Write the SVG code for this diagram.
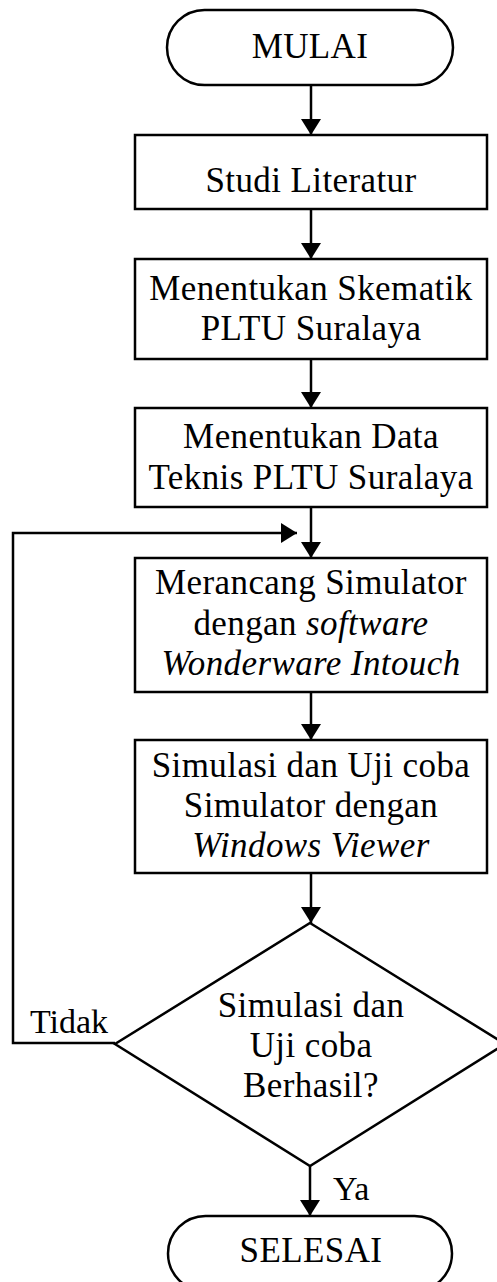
<svg xmlns="http://www.w3.org/2000/svg" width="497" height="1282" viewBox="0 0 497 1282">
<style>
.s{fill:#fff;stroke:#000;stroke-width:2.5}
.t{font-family:"Liberation Serif","Times New Roman",serif;font-size:35px;letter-spacing:0.4px;fill:#000;text-anchor:middle}
.l{font-family:"Liberation Serif","Times New Roman",serif;font-size:34px;fill:#000}
.i{font-style:italic}
.c{fill:none;stroke:#000;stroke-width:2.5}
</style>
<defs>
<marker id="ah" viewBox="0 0 16 20" refX="16" refY="10" markerWidth="16" markerHeight="20" markerUnits="userSpaceOnUse" orient="auto">
<path d="M0,0 L16,10 L0,20 z" fill="#000"/>
</marker>
</defs>
<rect width="497" height="1282" fill="#fff"/>
<g id="connectors">
<line class="c" x1="311" y1="85" x2="311" y2="135" marker-end="url(#ah)"/>
<line class="c" x1="311" y1="209" x2="311" y2="259" marker-end="url(#ah)"/>
<line class="c" x1="311" y1="359" x2="311" y2="408" marker-end="url(#ah)"/>
<line class="c" x1="311" y1="507" x2="311" y2="558" marker-end="url(#ah)"/>
<line class="c" x1="311" y1="692" x2="311" y2="740" marker-end="url(#ah)"/>
<line class="c" x1="311" y1="873" x2="311" y2="923" marker-end="url(#ah)"/>
<line class="c" x1="310" y1="1166" x2="310" y2="1216" marker-end="url(#ah)"/>
<polyline class="c" points="115,1043 13,1043 13,533 297,533" marker-end="url(#ah)"/>
<text class="l" x="30" y="1033">Tidak</text>
<text class="l" x="333" y="1200">Ya</text>
</g>
<g id="mulai">
<rect class="s" x="167" y="10" width="286" height="75" rx="37.5"/>
<text class="t" x="310" y="58">MULAI</text>
</g>
<g id="studi">
<rect class="s" x="135" y="135" width="352" height="74"/>
<text class="t" x="311" y="192">Studi Literatur</text>
</g>
<g id="skematik">
<rect class="s" x="135" y="259" width="352" height="100"/>
<text class="t" x="311" y="300">Menentukan Skematik</text>
<text class="t" x="311" y="340">PLTU Suralaya</text>
</g>
<g id="data">
<rect class="s" x="135" y="408" width="352" height="99"/>
<text class="t" x="311" y="448">Menentukan Data</text>
<text class="t" x="311" y="489">Teknis PLTU Suralaya</text>
</g>
<g id="merancang">
<rect class="s" x="135" y="558" width="352" height="134"/>
<text class="t" x="311" y="594">Merancang Simulator</text>
<text class="t" x="311" y="635">dengan <tspan class="i">software</tspan></text>
<text class="t i" x="311" y="675">Wonderware Intouch</text>
</g>
<g id="simulasi">
<rect class="s" x="135" y="740" width="352" height="133"/>
<text class="t" x="311" y="777">Simulasi dan Uji coba</text>
<text class="t" x="311" y="817">Simulator dengan</text>
<text class="t i" x="311" y="857">Windows Viewer</text>
</g>
<g id="keputusan">
<polygon class="s" points="310,923 505,1044 310,1166 115,1044"/>
<text class="t" x="311" y="1017">Simulasi dan</text>
<text class="t" x="311" y="1057">Uji coba</text>
<text class="t" x="311" y="1097">Berhasil?</text>
</g>
<g id="selesai">
<rect class="s" x="168" y="1216" width="284" height="75" rx="37.5"/>
<text class="t" x="311" y="1262">SELESAI</text>
</g>
</svg>
